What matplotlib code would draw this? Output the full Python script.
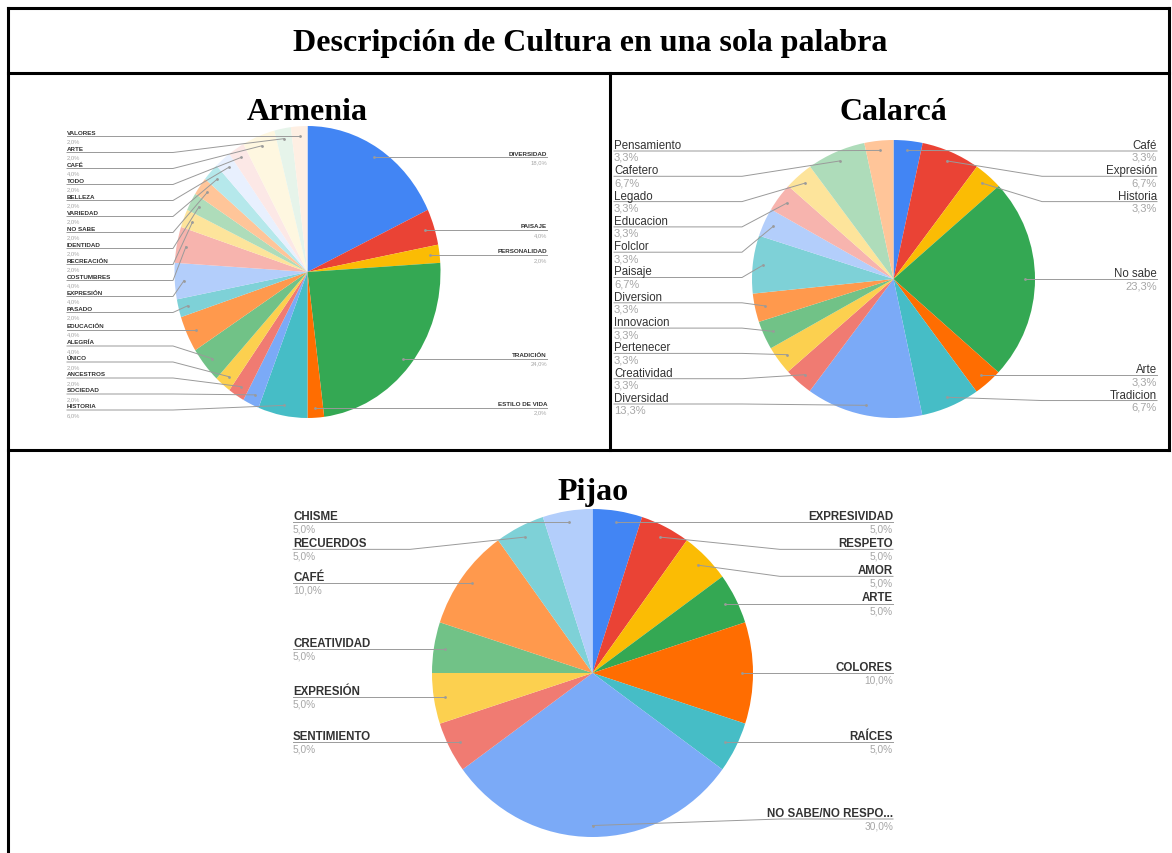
import numpy as np
import matplotlib
matplotlib.use("Agg")
import matplotlib.pyplot as plt

# --- datos ---
armenia_labels = ['DIVERSIDAD', 'PAISAJE', 'PERSONALIDAD', 'TRADICIÓN', 'ESTILO DE VIDA',
                  'HISTORIA', 'SOCIEDAD', 'ANCESTROS', 'ÚNICO', 'ALEGRÍA', 'EDUCACIÓN',
                  'PASADO', 'EXPRESIÓN', 'COSTUMBRES', 'RECREACIÓN', 'IDENTIDAD', 'NO SABE',
                  'VARIEDAD', 'BELLEZA', 'TODO', 'CAFÉ', 'ARTE', 'VALORES']
armenia_pct = [18, 4, 2, 24, 2, 6, 2, 2, 2, 4, 4, 2, 4, 4, 2, 2, 2, 2, 2, 2, 4, 2, 2]

calarca_labels = ['Café', 'Expresión', 'Historia', 'No sabe', 'Arte', 'Tradicion',
                  'Diversidad', 'Creatividad', 'Pertenecer', 'Innovacion', 'Diversion',
                  'Paisaje', 'Folclor', 'Educacion', 'Legado', 'Cafetero', 'Pensamiento']
calarca_pct = [3.3, 6.7, 3.3, 23.3, 3.3, 6.7, 13.3, 3.3, 3.3, 3.3, 3.3, 6.7, 3.3, 3.3, 3.3, 6.7, 3.3]

pijao_labels = ['EXPRESIVIDAD', 'RESPETO', 'AMOR', 'ARTE', 'COLORES', 'RAÍCES',
                'NO SABE/NO RESPO...', 'SENTIMIENTO', 'EXPRESIÓN', 'CREATIVIDAD', 'CAFÉ',
                'RECUERDOS', 'CHISME']
pijao_pct = [5, 5, 5, 5, 10, 5, 30, 5, 5, 5, 10, 5, 5]

# paleta tipo Google Sheets
palette = ['#4285F4', '#EA4335', '#FBBC04', '#34A853', '#FF6D01', '#46BDC6',
           '#7BAAF7', '#F07B72', '#FCD04F', '#71C287', '#FF994D', '#7ED1D7',
           '#B3CEFB', '#F7B4AE', '#FDE49B', '#AEDCBA', '#FFC599', '#B5E8EB',
           '#E8F0FE', '#FCE8E6', '#FEF7E0', '#E6F4EA', '#FEEFE3']

W, H = 1172, 854
fig = plt.figure(figsize=(W / 100, H / 100), dpi=100)
over = fig.add_axes([0, 0, 1, 1], zorder=5)
over.set_xlim(0, W)
over.set_ylim(H, 0)
over.axis('off')
over.patch.set_alpha(0)

# bordes de la tabla
blw = 2.2
over.plot([8, 8], [9, H], color='black', lw=blw)
over.plot([8, 1169], [9, 9], color='black', lw=blw)
over.plot([1169, 1169], [9, 451], color='black', lw=blw)
over.plot([8, 1169], [74, 74], color='black', lw=blw)
over.plot([8, 1169], [451, 451], color='black', lw=blw)
over.plot([610, 610], [74, 451], color='black', lw=blw)

serif = 'Liberation Serif'
over.text(590, 43, 'Descripción de Cultura en una sola palabra', ha='center', va='center',
          fontsize=23, fontweight='bold', family=serif)


def fmt(v):
    return f"{v:.1f}".replace('.', ',') + '%'


def spread(ys, gap, top, bottom):
    ys = list(ys)
    for i in range(len(ys)):
        lo = top if i == 0 else ys[i - 1] + gap
        ys[i] = max(ys[i], lo)
    for i in range(len(ys) - 1, -1, -1):
        hi = bottom if i == len(ys) - 1 else ys[i + 1] - gap
        ys[i] = min(ys[i], hi)
    return ys


def pie_chart(title, labels, vals, cx, cy, rx, ry, ty, xl, xr, wl, wr, gap, top, bottom,
              fs, off, bold, pfs):
    ax = fig.add_axes([(cx - rx) / W, 1 - (cy + ry) / H, 2 * rx / W, 2 * ry / H])
    ax.pie(vals, colors=palette[:len(vals)], startangle=90, counterclock=False,
           radius=1, wedgeprops=dict(linewidth=0))
    ax.set_aspect('auto')
    ax.set_xlim(-1, 1)
    ax.set_ylim(-1, 1)
    over.text(cx, ty, title, ha='center', va='center', fontsize=23,
              fontweight='bold', family=serif)

    tot = float(sum(vals))
    cum = np.cumsum([0] + list(vals))[:-1]
    f = 0.93
    right, left = [], []
    for i, v in enumerate(vals):
        th = np.radians((cum[i] + v / 2) / tot * 360)
        px = cx + rx * f * np.sin(th)
        py = cy - ry * f * np.cos(th)
        (right if np.sin(th) >= -1e-9 else left).append((py, px, i))

    for side, items in (('r', right), ('l', left)):
        items.sort()
        ys = spread([it[0] for it in items], gap, top, bottom)
        for (py, px, i), ly in zip(items, ys):
            if side == 'r':
                ax_x, bx, ha = xr, max(xr - wr, px), 'right'
            else:
                ax_x, bx, ha = xl, min(xl + wl, px), 'left'
            over.plot([ax_x, bx, px], [ly, ly, py], color='#9a9a9a', lw=0.7)
            over.plot(px, py, 'o', ms=2, color='#9a9a9a', mec='none')
            over.text(ax_x, ly - off, labels[i], ha=ha, va='center', fontsize=fs,
                      fontweight='bold' if bold else 'normal', color='#333333',
                      family='Liberation Sans')
            over.text(ax_x, ly + off, fmt(vals[i]), ha=ha, va='center', fontsize=pfs,
                      color='#a6a6a6', family='Liberation Sans')


pie_chart('Armenia', armenia_labels, armenia_pct, 307.5, 273, 133, 146, 113,
          67, 547, 106, 106, 16, 130, 411, 4.5, 4.3, True, 4.2)
pie_chart('Calarcá', calarca_labels, calarca_pct, 893.5, 280, 141.5, 139, 113,
          614, 1157, 128, 115, 25.3, 152, 405, 8.3, 6.0, False, 8.0)
pie_chart('Pijao', pijao_labels, pijao_pct, 592.5, 674, 160.5, 164, 493,
          293, 893, 117, 113, 27, 520, 820, 8.3, 6.3, True, 7.3)

fig.savefig('out.png', dpi=100)
